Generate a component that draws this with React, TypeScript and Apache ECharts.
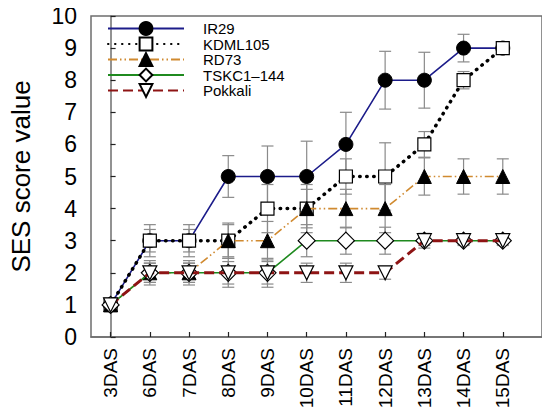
import React, { useEffect, useRef } from "react";
import * as echarts from "echarts";

const categories = ["3DAS", "6DAS", "7DAS", "8DAS", "9DAS", "10DAS", "11DAS", "12DAS", "13DAS", "14DAS", "15DAS"];
const yTicks = [0, 1, 2, 3, 4, 5, 6, 7, 8, 9, 10];

const ir29 = [1, 3, 3, 5, 5, 5, 6, 8, 8, 9, 9];
const ir29Err = [0, 0.5, 0.5, 0.65, 0.95, 1.1, 1.0, 0.9, 0.87, 0.43, 0];
const kdml105 = [1, 3, 3, 3, 4, 4, 5, 5, 6, 8, 9];
const kdml105Err = [0, 0.35, 0.35, 0.5, 0.75, 0.75, 0.55, 1.05, 0.4, 0.27, 0.1];
const rd73 = [1, 2, 2, 3, 3, 4, 4, 4, 5, 5, 5];
const rd73Err = [0, 0.3, 0.3, 0.55, 0.6, 0.6, 0.6, 0.75, 0.58, 0.55, 0.55];
const tskc = [1, 2, 2, 2, 2, 3, 3, 3, 3, 3, 3];
const tskcErr = [0, 0.3, 0.3, 0.35, 0.35, 0.5, 0.42, 0.42, 0.15, 0.12, 0.12];
const pokkali = [1, 2, 2, 2, 2, 2, 2, 2, 3, 3, 3];
const pokkaliErr = [0, 0.38, 0.38, 0.45, 0.45, 0.3, 0.3, 0.2, 0.23, 0.15, 0.15];

const FONT = "Liberation Sans, Arial, sans-serif";

export default function App() {
  const ref = useRef<HTMLDivElement>(null);
  useEffect(() => {
    if (!ref.current) return;
    const chart = echarts.init(ref.current, undefined, { renderer: "svg" });

    const defs = [
      {
        name: "IR29", values: ir29, err: ir29Err, symbol: "circle", size: 14, rotate: 0,
        item: { color: "#000", borderColor: "#000", borderWidth: 1 },
        line: { color: "#1c1c8a", width: 1.6, type: "solid" },
      },
      {
        name: "KDML105", values: kdml105, err: kdml105Err, symbol: "rect", size: 13, rotate: 0,
        item: { color: "#fff", borderColor: "#000", borderWidth: 1.2 },
        line: { color: "#000", width: 3.5, type: [0.5, 6.5], cap: "round" },
      },
      {
        name: "RD73", values: rd73, err: rd73Err, symbol: "triangle", size: 14, rotate: 0,
        item: { color: "#000", borderColor: "#000", borderWidth: 1 },
        line: { color: "#d08a30", width: 1.6, type: [9, 3, 1.5, 3, 1.5, 3] },
      },
      {
        name: "TSKC1\u2013144", values: tskc, err: tskcErr, symbol: "diamond", size: 17, rotate: 0,
        item: { color: "#fff", borderColor: "#000", borderWidth: 1.2 },
        line: { color: "#1f8a1f", width: 1.6, type: "solid" },
      },
      {
        name: "Pokkali", values: pokkali, err: pokkaliErr, symbol: "triangle", size: 14, rotate: 180,
        item: { color: "#fff", borderColor: "#000", borderWidth: 1.2 },
        line: { color: "#8e1414", width: 3, type: [10, 5] },
      },
    ];

    const errSeries = defs.map((d) => ({
      type: "custom",
      name: d.name + "-err",
      z: 1,
      silent: true,
      data: d.values.map((v, i) => [i, v, d.err[i]]),
      renderItem: (params: any, api: any) => {
        const x = api.value(0);
        const y = api.value(1);
        const e = api.value(2);
        if (!e) return null;
        const top = api.coord([x, y + e]);
        const bot = api.coord([x, y - e]);
        const w = 6;
        const st = { stroke: "#8a8a8a", lineWidth: 1.2 };
        return {
          type: "group",
          children: [
            { type: "line", shape: { x1: top[0], y1: top[1], x2: bot[0], y2: bot[1] }, style: st },
            { type: "line", shape: { x1: top[0] - w, y1: top[1], x2: top[0] + w, y2: top[1] }, style: st },
            { type: "line", shape: { x1: bot[0] - w, y1: bot[1], x2: bot[0] + w, y2: bot[1] }, style: st },
          ],
        };
      },
    }));

    const lineSeries = defs.map((d, k) => ({
      type: "line",
      name: d.name,
      z: 2 + k,
      data: d.values.map((v, i) => [i, v]),
      symbol: d.symbol,
      symbolSize: d.size,
      symbolRotate: d.rotate,
      showAllSymbol: true,
      itemStyle: d.item,
      lineStyle: d.line,
    }));

    chart.setOption({
      animation: false,
      backgroundColor: "#fff",
      grid: {
        left: 82, right: 8, top: 16, bottom: 81,
        show: true, borderColor: "#6e6e6e", borderWidth: 1.5, backgroundColor: "#fff",
      },
      legend: {
        data: defs.map((d) => d.name),
        orient: "vertical",
        left: 107,
        top: 21,
        padding: 0,
        itemWidth: 76,
        itemHeight: 16,
        itemGap: 0.5,
        textStyle: { fontFamily: FONT, fontSize: 15, color: "#000", padding: [0, 0, 0, 14] },
      },
      xAxis: {
        type: "value",
        min: -0.5,
        max: 11,
        splitLine: { show: false },
        axisLine: { show: true, lineStyle: { color: "#6e6e6e", width: 1.5 } },
        axisTick: { show: true, inside: true, length: 5, customValues: categories.map((_, i) => i), lineStyle: { color: "#222", width: 1.2 } },
        axisLabel: {
          customValues: categories.map((_, i) => i),
          formatter: (v: number) => categories[Math.round(v)] ?? "",
          rotate: 90,
          fontFamily: FONT,
          fontSize: 19,
          color: "#000",
          margin: 11,
        },
      },
      yAxis: {
        type: "value",
        min: 0,
        max: 10,
        interval: 1,
        name: "SES score value",
        nameLocation: "middle",
        nameGap: 57,
        nameTextStyle: { fontFamily: FONT, fontSize: 26, color: "#000" },
        splitLine: { show: false },
        axisLine: { show: true, lineStyle: { color: "#6e6e6e", width: 1.5 } },
        axisTick: { show: true, inside: true, length: 5, lineStyle: { color: "#222", width: 1.2 } },
        axisLabel: {
          formatter: (v: number) => (yTicks.includes(v) ? String(v) : ""),
          fontFamily: FONT,
          fontSize: 23,
          color: "#000",
          margin: 14,
        },
      },
      series: [...errSeries, ...lineSeries],
    });
    return () => chart.dispose();
  }, []);
  return <div ref={ref} style={{ width: 550, height: 418, margin: -8 }} />;
}
